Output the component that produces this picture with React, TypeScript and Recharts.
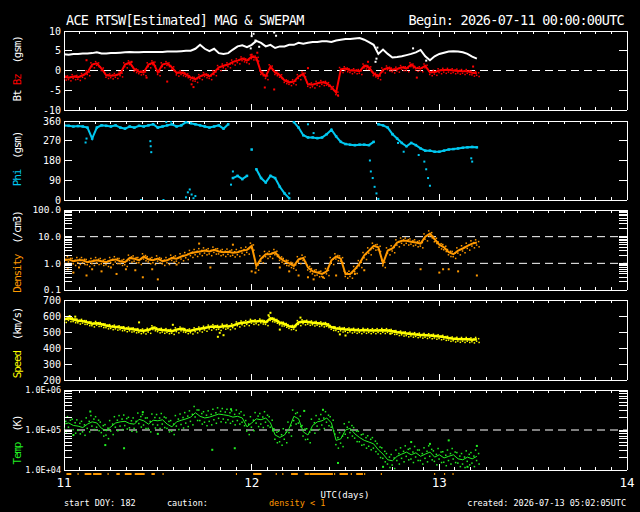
import React from "react";
import {
  ComposedChart,
  Line,
  Scatter,
  XAxis,
  YAxis,
  ReferenceLine,
  ReferenceArea,
} from "recharts";

document.body.style.margin = "0";
document.body.style.background = "#000";

// samples every 0.025 day (36 min), starting at day 11.0
const START = 11;
const STEP = 0.025;

const btValues = [
  4.1, 4.0, 4.2, 4.2, 4.3, 4.3, 4.4, 4.6, 4.3, 4.3,
  4.4, 4.4, 4.5, 4.6, 4.7, 4.6, 4.6, 4.7, 4.7, 4.7,
  4.7, 4.7, 4.8, 4.8, 4.8, 4.9, 5.0, 5.0, 5.5, 6.5,
  5.5, 4.9, 5.5, 4.4, 4.2, 4.4, 5.3, 6.1, 6.4, 5.9,
  6.5, 7.5, 7.0, 6.1, 6.5, 5.7, 6.1, 6.1, 6.5, 6.5,
  7.0, 6.8, 7.0, 7.2, 7.2, 7.4, 7.4, 7.2, 7.6, 7.8,
  8.0, 8.0, 8.1, 8.2, 7.8, 7.2, 6.5, 4.2, 5.3, 4.2,
  3.3, 3.4, 3.6, 3.9, 4.2, 4.6, 5.2, 3.6, 2.6, 3.6,
  4.2, 4.5, 4.8, 4.9, 4.8, 4.6, 4.2, 3.5, 3.0,
];

const bzValues = [
  -1.6, -1.8, -1.5, -1.7, -1.2, -0.5, 1.5, 1.8, 0.5, -1.2,
  -1.3, -1.2, -0.8, 1.5, 2.0, 0.3, -0.3, -0.5, 1.5, 2.0,
  -0.5, 1.5, 1.8, 0.8, -0.6, -0.5, -1.0, -1.8, -2.2, -1.5,
  -1.0, -1.5, -0.5, 0.8, 1.2, 1.5, 2.2, 2.5, 3.0, 2.5,
  3.5, 3.2, -0.5, -1.5, 1.0, -0.5, -1.2, -2.5, -3.0, -2.8,
  -1.5, -0.8, -3.5, -3.6, -3.2, -3.0, -3.2, -4.2, -5.6, 0.3,
  0.5, 0.0, 0.0, -0.2, 1.2, 0.8, -0.8, -1.5, 0.2, 0.7,
  0.2, 0.4, 0.8, 0.5, 1.5, 0.6, 0.5, 1.2, -0.5, -0.4,
  0.0, 0.1, 0.1, 0.0, -0.1, -0.2, -0.2, -0.6, -0.7,
];

const phiValues = [
  340, 338, 335, 337, 335, 330, 280, 330, 340, 338,
  335, 340, 330, 325, 335, 330, 338, 335, 340, 345,
  330, 335, 340, 345, 335, 340, 355, 350, 345, 340,
  335, 330, 335, 340, 325, 345, 100, 110, 95, 110,
  230, 140, 100, 80, 110, 100, 60, 30, 8, 355,
  330, 295, 285, 285, 282, 285, 300, 320, 290, 265,
  255, 252, 250, 252, 252, 250, 265, 345, 340, 330,
  300, 280, 260, 245, 260, 250, 235, 225, 225, 220,
  220, 225, 230, 232, 235, 238, 240, 242, 240,
];

const densityValues = [
  1.3, 1.4, 1.2, 1.3, 1.3, 1.1, 1.2, 1.3, 1.2, 1.1,
  1.3, 1.4, 1.2, 1.1, 1.6, 1.5, 1.3, 1.8, 1.4, 1.3,
  1.5, 1.2, 1.3, 1.6, 1.5, 1.8, 2.0, 2.4, 2.6, 2.8,
  3.0, 2.8, 3.2, 2.8, 2.6, 2.7, 2.5, 2.6, 3.0, 3.2,
  4.5, 0.8, 1.5, 2.2, 2.2, 2.6, 1.6, 1.2, 1.0, 0.8,
  1.4, 1.6, 0.7, 0.5, 0.45, 0.4, 0.5, 1.3, 1.8, 1.5,
  0.4, 0.4, 0.6, 1.0, 2.0, 3.0, 4.5, 4.0, 1.0, 3.0,
  3.6, 6.0, 7.0, 7.0, 6.5, 6.0, 5.5, 10, 13, 8,
  5, 4, 2.6, 2.2, 3.0, 3.6, 4.5, 5.5, 6.0,
];

const speedValues = [
  580, 585, 578, 570, 568, 560, 552, 555, 548, 540,
  535, 532, 528, 522, 520, 515, 510, 508, 512, 528,
  515, 512, 510, 505, 515, 520, 510, 508, 515, 520,
  525, 532, 535, 530, 538, 535, 540, 552, 558, 560,
  568, 565, 570, 560, 585, 575, 558, 550, 535, 530,
  560, 565, 562, 558, 555, 552, 548, 530, 522, 520,
  516, 514, 512, 510, 512, 510, 510, 510, 511, 510,
  505, 498, 495, 490, 488, 485, 482, 480, 478, 475,
  472, 468, 462, 458, 456, 455, 455, 452, 455,
];

const tempValues = [
  140000, 150000, 130000, 125000, 115000, 140000, 160000, 150000, 110000, 95000,
  120000, 150000, 160000, 165000, 145000, 140000, 185000, 170000, 140000, 175000,
  170000, 180000, 140000, 120000, 160000, 175000, 190000, 210000, 270000, 220000,
  200000, 210000, 230000, 250000, 240000, 230000, 210000, 220000, 200000, 120000,
  150000, 190000, 180000, 200000, 150000, 75000, 65000, 75000, 110000, 220000,
  190000, 90000, 75000, 130000, 160000, 170000, 200000, 150000, 55000, 60000,
  100000, 110000, 80000, 65000, 55000, 50000, 45000, 32000, 25000, 18000,
  17000, 22000, 25000, 28000, 24000, 27000, 22000, 25000, 28000, 21000,
  24000, 20000, 22000, 24000, 19000, 18000, 21000, 19000, 22000,
];

// stray points away from the main traces [day, value]
const btStray = [
  [11.995, 5.6], [12.0, 8.7], [12.01, 9.3], [12.02, 7.6], [12.04, 6.0],
  [12.12, 9.6], [12.13, 8.8], [12.66, 2.2], [12.665, 3.0], [12.67, 5.8],
  [12.86, 5.6], [12.93, 2.5],
];
const bzStray = [
  [11.12, 2.6], [11.36, 2.2], [11.44, -1.8], [11.55, -2.8], [11.68, -3.5],
  [11.69, -4.2], [12.0, 4.0], [12.03, 4.5], [12.07, -4.3], [12.12, -4.8],
  [12.3, 0.6], [12.46, -6.3], [12.62, 2.2], [12.88, -1.8], [13.18, 1.0],
];
const phiStray = [
  [11.115, 262], [11.12, 280], [11.41, 0], [11.46, 268], [11.462, 245],
  [11.465, 218], [11.53, 0], [11.545, 355], [11.57, 358], [11.65, 12],
  [11.66, 35], [11.67, 48], [11.68, 25], [11.69, 8], [11.7, 18],
  [11.89, 70], [11.9, 130], [12.2, 30], [12.3, 345], [12.33, 305],
  [12.63, 180], [12.635, 130], [12.645, 100], [12.655, 60], [12.665, 30],
  [12.675, 5], [12.75, 300], [12.78, 260], [12.81, 220], [12.89, 205],
  [12.92, 175], [12.93, 140], [12.94, 100], [12.95, 65], [13.17, 190],
  [13.175, 175],
];
const densityStray = [
  [11.02, 0.6], [11.05, 0.45], [11.08, 0.7], [11.12, 0.35], [11.15, 0.6],
  [11.2, 0.5], [11.25, 0.7], [11.28, 0.4], [11.33, 0.6], [11.38, 0.55],
  [11.42, 0.3], [11.47, 0.6], [11.5, 0.25], [11.6, 0.9], [11.72, 5.5],
  [11.78, 0.7], [11.9, 5.0], [12.0, 0.5], [12.02, 0.45], [12.15, 0.7],
  [12.2, 0.5], [12.25, 0.35], [12.3, 0.3], [12.33, 0.25], [12.38, 0.3],
  [12.45, 0.35], [12.55, 0.4], [12.6, 0.55], [12.9, 0.6], [13.0, 0.45],
  [13.02, 0.6], [13.05, 0.6], [13.1, 0.5], [13.2, 0.35],
];
const speedStray = [
  [11.03, 600], [11.06, 596], [11.4, 560], [11.58, 545], [11.82, 470],
  [11.83, 495], [11.85, 480], [12.09, 605], [12.1, 620], [12.15, 515],
  [12.26, 590], [12.47, 485], [12.5, 478], [12.74, 490],
];
const tempStray = [
  [11.05, 75000], [11.14, 290000], [11.22, 42000], [11.32, 35000],
  [11.42, 280000], [11.5, 80000], [11.79, 32000], [11.89, 330000],
  [11.91, 35000], [12.28, 300000], [12.38, 320000], [12.46, 15000],
  [12.7, 12000], [12.85, 50000], [12.95, 45000], [13.05, 55000],
  [13.15, 12000], [13.2, 40000],
];

// "density < 1" caution marks under the bottom panel
const cautionStart = [
  11.013, 11.072, 11.11, 11.155, 11.232, 11.279, 11.324, 11.377, 11.466,
  11.525, 11.916, 12.008, 12.128, 12.163, 12.21, 12.282, 12.308, 12.439,
  12.468, 12.528, 12.557, 12.599, 12.688, 12.972, 13.025, 13.07,
];
const cautionEnd = [
  11.039, 11.078, 11.146, 11.2, 11.238, 11.297, 11.36, 11.43, 11.484,
  11.531, 11.922, 12.052, 12.134, 12.169, 12.246, 12.305, 12.433, 12.445,
  12.513, 12.534, 12.593, 12.605, 12.694, 12.978, 13.031, 13.076,
];

const dayTicks = [11, 12, 13, 14];
const xTicks = Array.from({ length: 37 }, (_, i) => 11 + i / 12);

const bTicks = [-10, -5, 0, 5, 10];
const phiTicks = [0, 90, 180, 270, 360];
const speedTicks = [200, 300, 400, 500, 600, 700];
const densityTicks = [
  0.1, 0.2, 0.3, 0.4, 0.5, 0.6, 0.7, 0.8, 0.9,
  1, 2, 3, 4, 5, 6, 7, 8, 9,
  10, 20, 30, 40, 50, 60, 70, 80, 90, 100,
];
const densityLabels: Record<string, string> = { "0.1": "0.1", "1": "1.0", "10": "10.0", "100": "100.0" };
const tempTicks = [
  10000, 20000, 30000, 40000, 50000, 60000, 70000, 80000, 90000,
  100000, 200000, 300000, 400000, 500000, 600000, 700000, 800000, 900000,
  1000000,
];
const tempLabels: Record<string, string> = { "10000": "1.0E+04", "100000": "1.0E+05", "1000000": "1.0E+06" };

const FONT = "'DejaVu Sans Mono', monospace";
const LEFT = 64;
const RIGHT = 13;
const PAD = 7;

const WHITE = "#ffffff";
const RED = "#ff0000";
const CYAN = "#00c8f0";
const ORANGE = "#ff9900";
const YELLOW = "#ffff00";
const GREEN = "#22ee22";

// split phi into alternating runs so wraps / jumps are not joined by a line
let run = 0;
const rows = btValues.map((bt, i) => {
  if (i > 0 && Math.abs(phiValues[i] - phiValues[i - 1]) > 60) run++;
  return {
    t: START + i * STEP,
    bt,
    bz: bzValues[i],
    phi: phiValues[i],
    phiA: run % 2 === 0 ? phiValues[i] : null,
    phiB: run % 2 === 1 ? phiValues[i] : null,
    density: densityValues[i],
    speed: speedValues[i],
    temp: tempValues[i],
  };
});

const toPts = (list: number[][]) => list.map(([t, v]) => ({ t, v }));

const square = (color: string, size = 2) => (p: any) =>
  p.cx == null ? <g /> : (
    <rect x={p.cx - size / 2} y={p.cy - size / 2} width={size} height={size} fill={color} />
  );

// small dot cloud glyph so the noisy traces read as scatter, like the plot
const cloud = (color: string, spread: number) => (p: any) =>
  p.cx == null ? <g /> : (
    <g fill={color}>
      <rect x={p.cx - 2} y={p.cy - spread} width={1.5} height={1.5} />
      <rect x={p.cx + 1} y={p.cy - spread * 0.5} width={1.5} height={1.5} />
      <rect x={p.cx - 1} y={p.cy + spread * 0.5} width={1.5} height={1.5} />
      <rect x={p.cx + 1.5} y={p.cy + spread} width={1.5} height={1.5} />
    </g>
  );

const XTick = (p: any, dir: number, showDays: boolean) => {
  const v = p.payload.value;
  const major = Math.abs(v - Math.round(v)) < 1e-6;
  const len = major ? 6 : 3;
  return (
    <g>
      <line x1={p.x} x2={p.x} y1={p.y} y2={p.y + dir * len} stroke={WHITE} shapeRendering="crispEdges" />
      {showDays && major && dayTicks.includes(Math.round(v)) && (
        <text x={p.x} y={p.y + 17} textAnchor="middle" fill={WHITE} fontSize={12.5} fontFamily={FONT}>
          {Math.round(v)}
        </text>
      )}
    </g>
  );
};

const YTick = (p: any, dir: number, size: number, label?: (v: number) => string | undefined) => {
  const v = p.payload.value;
  const text = label ? label(v) : undefined;
  return (
    <g>
      <line x1={p.x} x2={p.x + dir * 8} y1={p.y} y2={p.y} stroke={WHITE} shapeRendering="crispEdges" />
      {text && (
        <text x={p.x - 3} y={p.y} dy={size * 0.36} textAnchor="end" fill={WHITE} fontSize={size} fontFamily={FONT}>
          {text}
        </text>
      )}
    </g>
  );
};

interface PanelProps {
  top: number;
  height: number;
  yDomain: [number, number];
  yScale?: "linear" | "log";
  yTicks: number[];
  label: (v: number) => string | undefined;
  labelSize?: number;
  padBottom?: number;
  showDays?: boolean;
  children: React.ReactNode;
}

const axisLine = { stroke: WHITE, shapeRendering: "crispEdges" };

const Panel = ({ top, height, yDomain, yScale = "linear", yTicks, label, labelSize = 10, padBottom = PAD, showDays = false, children }: PanelProps) => (
  <div style={{ position: "absolute", left: 0, top: top - PAD }}>
    <ComposedChart
      width={640}
      height={height + PAD + padBottom}
      data={rows}
      margin={{ top: 0, right: 0, bottom: 0, left: 0 }}
    >
      <XAxis
        xAxisId="b" dataKey="t" type="number" domain={[11, 14]} ticks={xTicks} interval={0}
        orientation="bottom" height={padBottom} tickSize={0} tickMargin={0} tickLine={false}
        axisLine={axisLine} tick={(p: any) => XTick(p, -1, showDays)} allowDataOverflow
      />
      <XAxis
        xAxisId="t" dataKey="t" type="number" domain={[11, 14]} ticks={xTicks} interval={0}
        orientation="top" height={PAD} tickSize={0} tickMargin={0} tickLine={false}
        axisLine={axisLine} tick={(p: any) => XTick(p, 1, false)} allowDataOverflow
      />
      <YAxis
        yAxisId="l" type="number" scale={yScale} domain={yDomain} ticks={yTicks} interval={0}
        width={LEFT} tickSize={0} tickMargin={0} tickLine={false}
        axisLine={axisLine} tick={(p: any) => YTick(p, 1, labelSize, label)} allowDataOverflow
      />
      <YAxis
        yAxisId="r" orientation="right" type="number" scale={yScale} domain={yDomain} ticks={yTicks} interval={0}
        width={RIGHT} tickSize={0} tickMargin={0} tickLine={false}
        axisLine={axisLine} tick={(p: any) => YTick(p, -1, labelSize)} allowDataOverflow
      />
      {children}
    </ComposedChart>
  </div>
);

const core = (key: string, color: string, width: number) => (
  <Line
    key={key + "-core"} xAxisId="b" yAxisId="l" dataKey={key} stroke={color} strokeWidth={width}
    dot={false} isAnimationActive={false} type="linear"
  />
);
const noise = (key: string, color: string, spread: number) => (
  <Scatter
    key={key + "-noise"} xAxisId="b" yAxisId="l" data={rows.map((r: any) => ({ t: r.t, v: r[key] }))}
    dataKey="v" shape={cloud(color, spread)} isAnimationActive={false}
  />
);
const stray = (key: string, list: number[][], color: string) => (
  <Scatter
    key={key + "-stray"} xAxisId="b" yAxisId="l" data={toPts(list)} dataKey="v"
    shape={square(color)} isAnimationActive={false}
  />
);
const dashed = (y: number) => (
  <ReferenceLine key={"ref" + y} xAxisId="b" yAxisId="l" y={y} stroke={WHITE} strokeDasharray="8 5" />
);

const yTitle = (x: number, y: number, color: string, name: string, unit: string, extra?: React.ReactNode) => (
  <text
    transform={`translate(${x},${y}) rotate(-90)`} textAnchor="middle" fontSize={11}
    letterSpacing={-1.2} fontFamily={FONT} style={{ whiteSpace: "pre" }}
  >
    {extra}
    <tspan fill={color}>{name}</tspan>
    <tspan fill={WHITE}>{"  " + unit}</tspan>
  </text>
);

const App = () => {
  return (
    <div style={{ position: "relative", width: 640, height: 512, background: "#000", overflow: "hidden" }}>
      <svg width={640} height={512} style={{ position: "absolute", left: 0, top: 0 }}>
        <text x={66} y={25} fill={WHITE} fontSize={13.5} letterSpacing={-0.7} fontFamily={FONT}>
          ACE RTSW[Estimated] MAG &amp; SWEPAM
        </text>
        <text x={624} y={25} fill={WHITE} fontSize={13.5} letterSpacing={-0.7} fontFamily={FONT} textAnchor="end">
          Begin: 2026-07-11 00:00:00UTC
        </text>
        {yTitle(21, 69, RED, "Bz", "(gsm)", <tspan fill={WHITE}>{"Bt "}</tspan>)}
        {yTitle(21, 159, CYAN, "Phi", "(gsm)")}
        {yTitle(21, 252, ORANGE, "Density", "(/cm3)")}
        {yTitle(21, 343, YELLOW, "Speed", "(km/s)")}
        {yTitle(21, 440, GREEN, "Temp", "(K)")}
        <text x={345} y={498} fill={WHITE} fontSize={9} fontFamily={FONT} textAnchor="middle">
          UTC(days)
        </text>
        <text x={64} y={506} fill={WHITE} fontSize={8.5} fontFamily={FONT}>start DOY: 182</text>
        <text x={167} y={506} fill={WHITE} fontSize={8.5} fontFamily={FONT}>caution:</text>
        <text x={269} y={506} fill={ORANGE} fontSize={8.5} fontFamily={FONT}>density &lt; 1</text>
        <text x={626} y={506} fill={WHITE} fontSize={8.5} fontFamily={FONT} textAnchor="end">
          created: 2026-07-13 05:02:05UTC
        </text>
      </svg>

      <Panel top={31} height={79} yDomain={[-10, 10]} yTicks={bTicks} label={(v) => String(v)}>
        {dashed(0)}
        {core("bt", WHITE, 2)}
        {stray("bt", btStray, WHITE)}
        {core("bz", RED, 2)}
        {noise("bz", RED, 2.5)}
        {stray("bz", bzStray, RED)}
      </Panel>

      <Panel top={121} height={79} yDomain={[0, 360]} yTicks={phiTicks} label={(v) => String(v)}>
        {core("phiA", CYAN, 2)}
        {core("phiB", CYAN, 2)}
        <Scatter
          xAxisId="b" yAxisId="l" data={rows.map((r) => ({ t: r.t, v: r.phi }))} dataKey="v"
          shape={square(CYAN, 2.5)} isAnimationActive={false}
        />
        {stray("phi", phiStray, CYAN)}
      </Panel>

      <Panel
        top={210} height={80} yDomain={[0.1, 100]} yScale="log" yTicks={densityTicks}
        label={(v) => densityLabels[String(v)]} labelSize={9.5}
      >
        {dashed(1)}
        {dashed(10)}
        {core("density", ORANGE, 2)}
        {noise("density", ORANGE, 3.5)}
        {stray("density", densityStray, ORANGE)}
      </Panel>

      <Panel top={300} height={80} yDomain={[200, 700]} yTicks={speedTicks} label={(v) => String(v)}>
        {core("speed", YELLOW, 2.5)}
        {noise("speed", YELLOW, 2.5)}
        {stray("speed", speedStray, YELLOW)}
      </Panel>

      <Panel
        top={390} height={80} yDomain={[10000, 1000000]} yScale="log" yTicks={tempTicks}
        label={(v) => tempLabels[String(v)]} labelSize={8.5} padBottom={24} showDays
      >
        {dashed(100000)}
        {core("temp", GREEN, 1)}
        {noise("temp", GREEN, 7)}
        {stray("temp", tempStray, GREEN)}
        {cautionStart.map((s, i) => (
          <ReferenceArea
            key={"c" + i} xAxisId="b" yAxisId="l" x1={s} x2={cautionEnd[i]} y1={7500} y2={8400}
            fill={ORANGE} fillOpacity={1} stroke="none" ifOverflow="visible"
          />
        ))}
      </Panel>
    </div>
  );
};

export default App;
